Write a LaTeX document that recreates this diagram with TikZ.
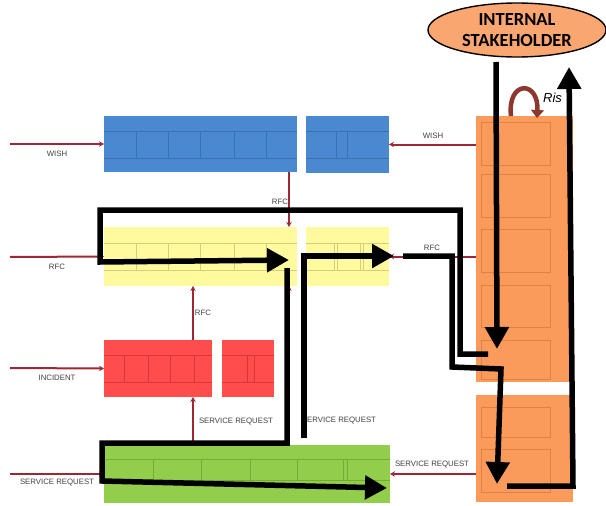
\documentclass[tikz,border=0pt]{standalone}
\usepackage{fontspec}
\setmainfont{Liberation Sans}
\newfontfamily\calibrifont{Carlito}
\usetikzlibrary{arrows.meta,shapes.geometric}

\definecolor{qblue}{RGB}{74,136,208}
\definecolor{qblueL}{RGB}{60,112,178}
\definecolor{qyellow}{RGB}{255,250,158}
\definecolor{qyellowL}{RGB}{214,206,120}
\definecolor{qred}{RGB}{255,76,76}
\definecolor{qredL}{RGB}{214,56,56}
\definecolor{qgreen}{RGB}{146,205,75}
\definecolor{qgreenL}{RGB}{118,172,54}
\definecolor{qorange}{RGB}{250,155,92}
\definecolor{qorangeL}{RGB}{226,128,70}
\definecolor{qellipse}{RGB}{250,166,112}
\definecolor{feedred}{RGB}{155,40,52}
\definecolor{riskbrown}{RGB}{140,56,46}
\definecolor{labelgray}{RGB}{64,64,64}

\begin{document}
\begin{tikzpicture}[x=1pt,y=-1pt,
  queue/.style={draw=none,inner sep=0pt,outer sep=0pt,anchor=north west},
  cell/.style={line width=0.6pt},
  feed/.style={draw=feedred,line width=2pt,-{Stealth[length=5pt,width=5.5pt]}},
  lbl/.style={font=\fontsize{7.8}{9}\selectfont,text=labelgray,inner sep=0pt},
  flow/.style={draw=black,line width=5.5pt,line join=miter},
  flowarrow/.style={flow,-{Triangle[length=22pt,width=23pt]}},
]
\useasboundingbox (0,0) rectangle (606,506);

% ---- queues ----
\node[queue,fill=qblue,minimum width=193pt,minimum height=56pt] (blue1) at (104,116) {};
\node[queue,fill=qblue,minimum width=83pt,minimum height=57pt] (blue2) at (306,116) {};
\node[queue,fill=qyellow,minimum width=193pt,minimum height=59pt] (yellow1) at (104,227) {};
\node[queue,fill=qyellow,minimum width=83pt,minimum height=59pt] (yellow2) at (306,227) {};
\node[queue,fill=qred,minimum width=108pt,minimum height=57pt] (red1) at (104,340) {};
\node[queue,fill=qred,minimum width=52pt,minimum height=57pt] (red2) at (222,340) {};
\node[queue,fill=qgreen,minimum width=286pt,minimum height=58pt] (green) at (104,445) {};
\node[queue,fill=qorange,minimum width=97pt,minimum height=266pt] (orangeA) at (476,116) {};
\node[queue,fill=qorange,minimum width=97pt,minimum height=107pt] (orangeB) at (476,395) {};

% ---- slots inside the queues ----
\draw[cell,qblueL] (104,131) -- (297,131) (104,158) -- (297,158);
\foreach \x in {136,168,200,234,266} \draw[cell,qblueL] (\x,131) -- (\x,158);
\draw[cell,qblueL] (306,131) -- (389,131) (306,158) -- (389,158);
\foreach \x in {336,347} \draw[cell,qblueL] (\x,131) -- (\x,158);

\draw[cell,qyellowL] (104,243) -- (297,243) (104,270) -- (297,270);
\foreach \x in {136,168,200,234,266} \draw[cell,qyellowL] (\x,243) -- (\x,270);
\draw[cell,qyellowL] (306,243) -- (389,243) (306,270) -- (389,270);
\foreach \x in {334,337,360,363} \draw[cell,qyellowL] (\x,243) -- (\x,270);

\draw[cell,qredL] (104,355) -- (212,355) (104,382) -- (212,382);
\foreach \x in {124,148,170,194} \draw[cell,qredL] (\x,355) -- (\x,382);
\draw[cell,qredL] (222,355) -- (274,355) (222,382) -- (274,382);
\foreach \x in {247,254} \draw[cell,qredL] (\x,355) -- (\x,382);

\draw[cell,qgreenL] (104,459) -- (390,459) (104,480) -- (390,480);
\foreach \x in {153,201,250,297,343,347} \draw[cell,qgreenL] (\x,459) -- (\x,480);

\foreach \ya/\yb in {122/165,174/217,229/272,285/327,340/379,407/437,449/492}
  \draw[cell,qorangeL] (481,\ya) rectangle (550,\yb);

% ---- incoming requests ----
\coordinate (inWish) at (10,144);
\coordinate (inRfc) at (10,257);
\coordinate (inInc) at (10,368);
\coordinate (inSr) at (10,474);
\draw[feed] (inWish) -- (blue1.west);
\draw[feed] (inRfc) -- (yellow1.west);
\draw[feed] (inInc) -- (red1.west);
\draw[feed] (inSr) -- (green.west);

\node[lbl] (lWish) at (57,154) {WISH};
\node[lbl] (lRfc) at (57,267) {RFC};
\node[lbl] (lInc) at (57,378) {INCIDENT};
\node[lbl] (lSr) at (57,483) {SERVICE REQUEST};

% ---- escalations between queues ----
\coordinate (xa) at (193,0);
\coordinate (xb) at (289,0);
\draw[feed] (xb |- blue1.south) -- (xb |- yellow1.north);
\draw[feed] (xa |- red1.north) -- (xa |- yellow1.south);
\draw[feed] (xa |- green.north) -- (xa |- red1.south);
\draw[feed] (xb |- green.north) -- (xb |- yellow1.south);
\node[lbl] (lRfcA) at (280,202) {RFC};
\node[lbl] (lRfcB) at (203,313) {RFC};
\node[lbl] (lSrA) at (236,422) {SERVICE REQUEST};
\node[lbl] (lSrB) at (339,421) {SERVICE REQUEST};

% ---- requests from the stakeholder column ----
\draw[feed] (blue2.east -| orangeA.west) -- (blue2.east);
\draw[feed] (yellow2.east -| orangeA.west) -- (yellow2.east);
\draw[feed] (green.east -| orangeB.west) -- (green.east);
\node[lbl] (lWishR) at (433,136) {WISH};
\node[lbl] (lRfcR) at (432,248) {RFC};
\node[lbl] (lSrR) at (432,465) {SERVICE REQUEST};

% ---- stakeholder ----
\node[ellipse,draw=black,line width=1.4pt,fill=qellipse,minimum width=178pt,minimum height=54pt,inner sep=0pt,
      align=center,font=\calibrifont\bfseries\fontsize{18.5}{21}\selectfont] (stake) at (517,30) {INTERNAL\\STAKEHOLDER};

% risk loop above the column
\coordinate (rk1) at (511,116);
\coordinate (rk2) at (507,80);
\coordinate (rk3) at (539,80);
\coordinate (rk4) at (537,118);
\draw[riskbrown,line width=4.5pt,-{Triangle[length=8pt,width=13pt]}] (rk1) .. controls (rk2) and (rk3) .. (rk4);
\node[anchor=west,inner sep=0pt,font=\itshape\fontsize{13}{15}\selectfont] (risk) at (543,98) {Ris};

% ---- highlighted flows ----
\coordinate (p1a) at (488,354);
\coordinate (p1b) at (460,354);
\coordinate (p1c) at (460,210);
\coordinate (p1d) at (100,210);
\coordinate (p1e) at (100,262);
\coordinate (p1f) at (289,260);
\draw[flowarrow] (p1a) -- (p1b) -- (p1c) -- (p1d) -- (p1e) -- (p1f);

\coordinate (p2a) at (287,268);
\coordinate (p2b) at (287,443);
\coordinate (p2c) at (102,443);
\coordinate (p2d) at (102,481);
\coordinate (p2e) at (387,488);
\draw[flowarrow] (p2a) -- (p2b) -- (p2c) -- (p2d) -- (p2e);

\coordinate (p3a) at (304,438);
\coordinate (p3b) at (304,256);
\coordinate (p3c) at (394,256);
\draw[flowarrow] (p3a) -- (p3b) -- (p3c);

\coordinate (p4a) at (403,256);
\coordinate (p4b) at (452,256);
\coordinate (p4c) at (452,367);
\coordinate (p4d) at (501,369);
\coordinate (p4e) at (497,484);
\draw[flowarrow] (p4a) -- (p4b) -- (p4c) -- (p4d) -- (p4e);

\coordinate (p5a) at (496,62);
\coordinate (p5b) at (497,349);
\draw[flowarrow] (p5a) -- (p5b);

\coordinate (p6a) at (507,486);
\coordinate (p6b) at (573,486);
\coordinate (p6c) at (569,67);
\draw[flowarrow] (p6a) -- (p6b) -- (p6c);
\end{tikzpicture}
\end{document}
